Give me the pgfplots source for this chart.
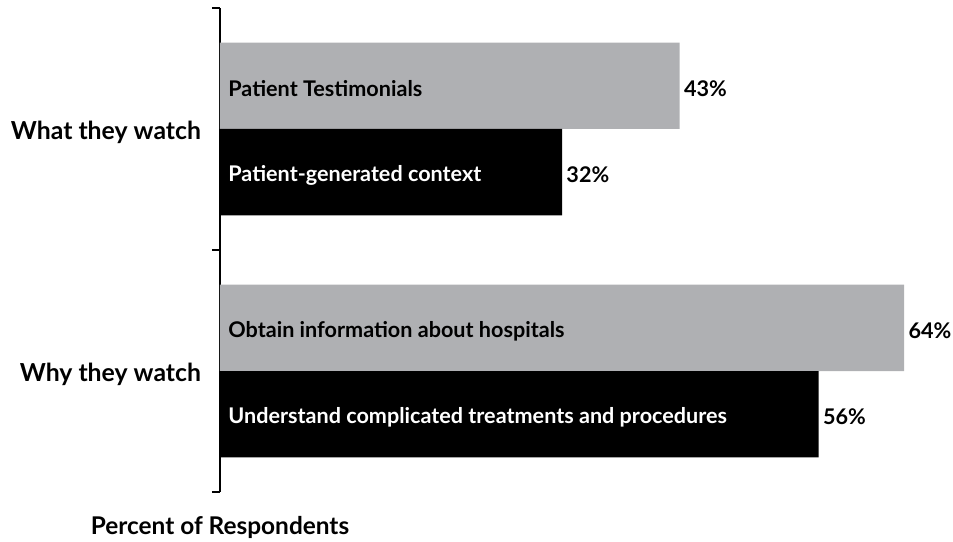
\documentclass[border=0pt]{standalone}
\usepackage{pgfplots}
\pgfplotsset{compat=1.18}
\usepackage{fontspec}
\setmainfont{Lato}
\definecolor{barg}{HTML}{AFB0B3}
\begin{document}
\begin{tikzpicture}
\useasboundingbox (0,0) rectangle (476.5pt,270.5pt);
\begin{axis}[
  at={(110pt,24.5pt)}, anchor=south west,
  scale only axis, width=363.46pt, height=242pt,
  xmin=0, xmax=68, ymin=0, ymax=2,
  axis x line=none,
  axis y line*=left,
  y axis line style={-, line width=1pt},
  ytick={0,1,2}, yticklabels={},
  major tick length=4pt,
  tick align=outside,
  tick style={line width=1pt, black},
  extra y ticks={0.5,1.5},
  extra y tick labels={Why they watch,What they watch},
  extra y tick style={major tick length=0pt, tick label style={font=\bfseries\fontsize{12.4}{14}\selectfont, xshift=-6pt, yshift=-1.5pt}},
  xbar, bar width=0.357, bar shift=0pt,
  clip=false,
]
\addplot[fill=barg, draw=none] coordinates {(43,1.6785) (64,0.6785)};
\addplot[fill=black, draw=none] coordinates {(32,1.3215) (56,0.3215)};
\begin{scope}[every node/.append style={yshift=-1.5pt}]
\node[anchor=west, inner sep=0pt, font=\bfseries\fontsize{10.8}{12}\selectfont] at (axis cs:0.75,1.6785) {Patient Testimonials};
\node[anchor=west, inner sep=0pt, font=\bfseries\fontsize{10.8}{12}\selectfont, text=white] at (axis cs:0.75,1.3215) {Patient-generated context};
\node[anchor=west, inner sep=0pt, font=\bfseries\fontsize{10.8}{12}\selectfont] at (axis cs:0.75,0.6785) {Obtain information about hospitals};
\node[anchor=west, inner sep=0pt, font=\bfseries\fontsize{10.8}{12}\selectfont, text=white] at (axis cs:0.75,0.3215) {Understand complicated treatments and procedures};
\node[anchor=west, inner sep=2pt, font=\bfseries\fontsize{10.8}{12}\selectfont] at (axis cs:43,1.6785) {43\%};
\node[anchor=west, inner sep=2pt, font=\bfseries\fontsize{10.8}{12}\selectfont] at (axis cs:32,1.3215) {32\%};
\node[anchor=west, inner sep=2pt, font=\bfseries\fontsize{10.8}{12}\selectfont] at (axis cs:64,0.6785) {64\%};
\node[anchor=west, inner sep=2pt, font=\bfseries\fontsize{10.8}{12}\selectfont] at (axis cs:56,0.3215) {56\%};
\end{scope}
\end{axis}
\node[font=\bfseries\fontsize{12.2}{14}\selectfont] at (110pt,7pt) {Percent of Respondents};
\end{tikzpicture}
\end{document}
